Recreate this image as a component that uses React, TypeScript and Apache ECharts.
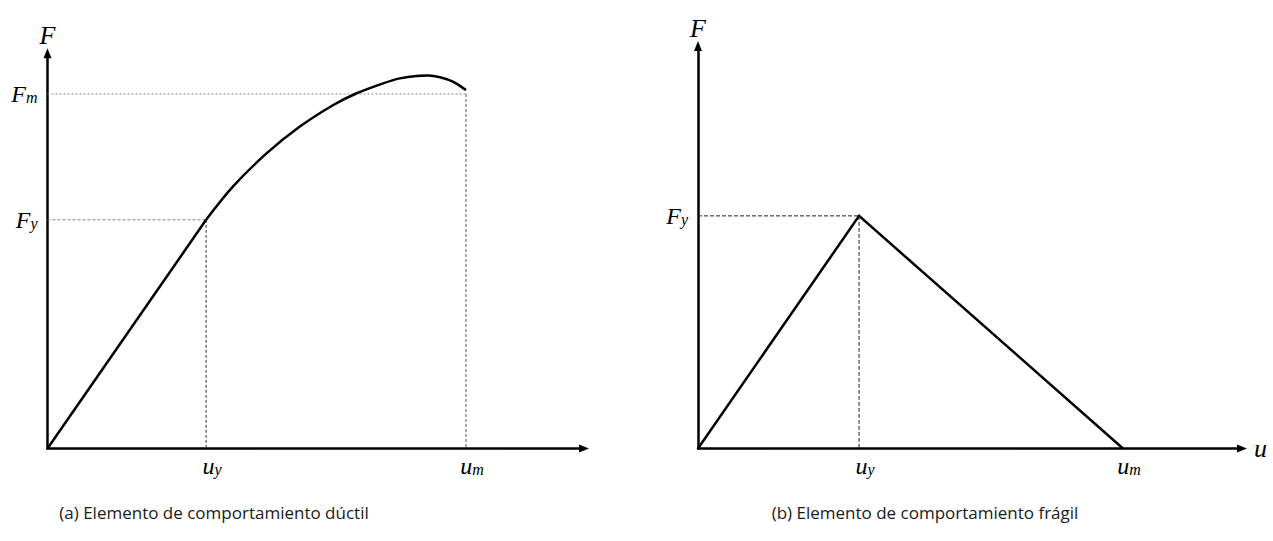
import React, { useEffect, useRef } from "react";
import * as echarts from "echarts";

// (a) ductile element: linear branch up to yield, then hardening curve
const ductileLinearU = [0, 0.379];
const ductileLinearF = [0, 0.645];
const ductileCurveU = [0.379, 0.444, 0.524, 0.603, 0.683, 0.739, 0.802, 0.842, 0.882, 0.91, 0.938, 0.97, 1.0];
const ductileCurveF = [0.645, 0.74, 0.833, 0.908, 0.969, 1.002, 1.03, 1.044, 1.051, 1.052, 1.047, 1.034, 1.011];
const ductileYield = { u: 0.379, f: 0.645 };
const ductileMax = { u: 1.0, f: 1.0 };

// (b) brittle element: rise to yield, then linear drop to zero
const brittleU = [0, 0.379, 1.0];
const brittleF = [0, 0.656, 0];
const brittleYield = { u: 0.379, f: 0.656 };
const brittleMax = { u: 1.0 };

// caption texts
const captionA = "(a) Elemento de comportamiento dúctil";
const captionB = "(b) Elemento de comportamiento frágil";

const MATH_FONT = "'Liberation Serif', 'DejaVu Serif', serif";
const CAPTION_FONT = "400 17px 'Open Sans', 'Noto Sans', sans-serif";

const pairs = (xs: number[], ys: number[]) => xs.map((x, i) => [x, ys[i]]);

const rich = {
  g: { width: 12 },
  m: {
    fontFamily: MATH_FONT,
    fontStyle: "italic",
    fontSize: 24,
    lineHeight: 24,
    color: "#000",
    verticalAlign: "top",
  },
  s: {
    fontFamily: MATH_FONT,
    fontStyle: "italic",
    fontSize: 16,
    lineHeight: 16,
    color: "#000",
    verticalAlign: "bottom",
    padding: [11, 0, 0, 0],
  },
};

const near = (a: number, b: number) => Math.abs(a - b) < 1e-6;

const axisLineStyle = {
  show: true,
  onZero: false,
  symbol: ["none", "triangle"],
  symbolSize: [8, 10],
  lineStyle: { color: "#000", width: 2.5 },
};

const guide = (data: number[][], color: string, dash: number[]) => ({
  type: "line",
  data,
  symbol: "none",
  silent: true,
  lineStyle: { color, width: 1, type: dash },
  z: 1,
});

export default function App() {
  const ref = useRef<HTMLDivElement>(null);

  useEffect(() => {
    if (!ref.current) return;
    const chart = echarts.init(ref.current, null, { renderer: "svg" });

    const xLabel = (map: [number, string][]) => ({
      customValues: map.map((m) => m[0]),
      margin: 5,
      rich,
      formatter: (v: number) => {
        const hit = map.find((m) => near(m[0], v));
        return hit ? `{g|}{m|u}{s|${hit[1]}}` : "";
      },
    });
    const yLabel = (map: [number, string][]) => ({
      customValues: map.map((m) => m[0]),
      margin: 10,
      rich,
      formatter: (v: number) => {
        const hit = map.find((m) => near(m[0], v));
        return hit ? `{m|F}{s|${hit[1]}}` : "";
      },
    });

    const nameStyle = {
      fontFamily: MATH_FONT,
      fontStyle: "italic",
      fontSize: 26,
      color: "#000",
    };

    chart.setOption({
      animation: false,
      backgroundColor: "#fff",
      grid: [
        { left: 47.5, top: 53.2, width: 536.5, height: 395.3 },
        { left: 698, top: 46, width: 544, height: 402.5 },
      ],
      xAxis: [
        {
          gridIndex: 0,
          type: "value",
          min: 0,
          max: 1.282,
          splitLine: { show: false },
          axisTick: { show: false },
          axisLine: axisLineStyle,
          axisLabel: xLabel([
            [ductileYield.u, "y"],
            [ductileMax.u, "m"],
          ]),
        },
        {
          gridIndex: 1,
          type: "value",
          min: 0,
          max: 1.28,
          name: "u",
          nameLocation: "end",
          nameGap: 12,
          nameTextStyle: nameStyle,
          splitLine: { show: false },
          axisTick: { show: false },
          axisLine: axisLineStyle,
          axisLabel: xLabel([
            [brittleYield.u, "y"],
            [brittleMax.u, "m"],
          ]),
        },
      ],
      yAxis: [
        {
          gridIndex: 0,
          type: "value",
          min: 0,
          max: 1.115,
          name: "F",
          nameLocation: "end",
          nameGap: 5,
          nameTextStyle: nameStyle,
          splitLine: { show: false },
          axisTick: { show: false },
          axisLine: axisLineStyle,
          axisLabel: yLabel([
            [ductileYield.f, "y"],
            [ductileMax.f, "m"],
          ]),
        },
        {
          gridIndex: 1,
          type: "value",
          min: 0,
          max: 1.135,
          name: "F",
          nameLocation: "end",
          nameGap: 5,
          nameTextStyle: nameStyle,
          splitLine: { show: false },
          axisTick: { show: false },
          axisLine: axisLineStyle,
          axisLabel: yLabel([[brittleYield.f, "y"]]),
        },
      ],
      series: [
        {
          ...guide(
            [
              [0, ductileMax.f],
              [ductileMax.u, ductileMax.f],
            ],
            "#909090",
            [2, 2]
          ),
          xAxisIndex: 0,
          yAxisIndex: 0,
        },
        {
          ...guide(
            [
              [ductileMax.u, ductileMax.f],
              [ductileMax.u, 0],
            ],
            "#555",
            [3, 2]
          ),
          xAxisIndex: 0,
          yAxisIndex: 0,
        },
        {
          ...guide(
            [
              [0, ductileYield.f],
              [ductileYield.u, ductileYield.f],
            ],
            "#808080",
            [3, 2]
          ),
          xAxisIndex: 0,
          yAxisIndex: 0,
        },
        {
          ...guide(
            [
              [ductileYield.u, ductileYield.f],
              [ductileYield.u, 0],
            ],
            "#333",
            [3, 2]
          ),
          xAxisIndex: 0,
          yAxisIndex: 0,
        },
        {
          type: "line",
          xAxisIndex: 0,
          yAxisIndex: 0,
          data: pairs(ductileLinearU, ductileLinearF),
          symbol: "none",
          lineStyle: { color: "#000", width: 2.5 },
          z: 3,
        },
        {
          type: "line",
          xAxisIndex: 0,
          yAxisIndex: 0,
          data: pairs(ductileCurveU, ductileCurveF),
          symbol: "none",
          smooth: 0.35,
          lineStyle: { color: "#000", width: 2.5 },
          z: 3,
        },
        {
          ...guide(
            [
              [0, brittleYield.f],
              [brittleYield.u, brittleYield.f],
            ],
            "#222",
            [4, 2]
          ),
          xAxisIndex: 1,
          yAxisIndex: 1,
        },
        {
          ...guide(
            [
              [brittleYield.u, brittleYield.f],
              [brittleYield.u, 0],
            ],
            "#222",
            [4, 2]
          ),
          xAxisIndex: 1,
          yAxisIndex: 1,
        },
        {
          type: "line",
          xAxisIndex: 1,
          yAxisIndex: 1,
          data: pairs(brittleU, brittleF),
          symbol: "none",
          lineStyle: { color: "#000", width: 2.5, join: "miter" },
          z: 3,
        },
      ],
      graphic: [
        {
          type: "text",
          x: 214,
          y: 512,
          style: {
            text: captionA,
            font: CAPTION_FONT,
            fill: "#1a1a1a",
            align: "center",
            verticalAlign: "middle",
          },
        },
        {
          type: "text",
          x: 925,
          y: 512,
          style: {
            text: captionB,
            font: CAPTION_FONT,
            fill: "#1a1a1a",
            align: "center",
            verticalAlign: "middle",
          },
        },
      ],
    });

    return () => chart.dispose();
  }, []);

  return (
    <div
      ref={ref}
      style={{ position: "fixed", left: 0, top: 0, width: 1273, height: 541, background: "#fff" }}
    />
  );
}
